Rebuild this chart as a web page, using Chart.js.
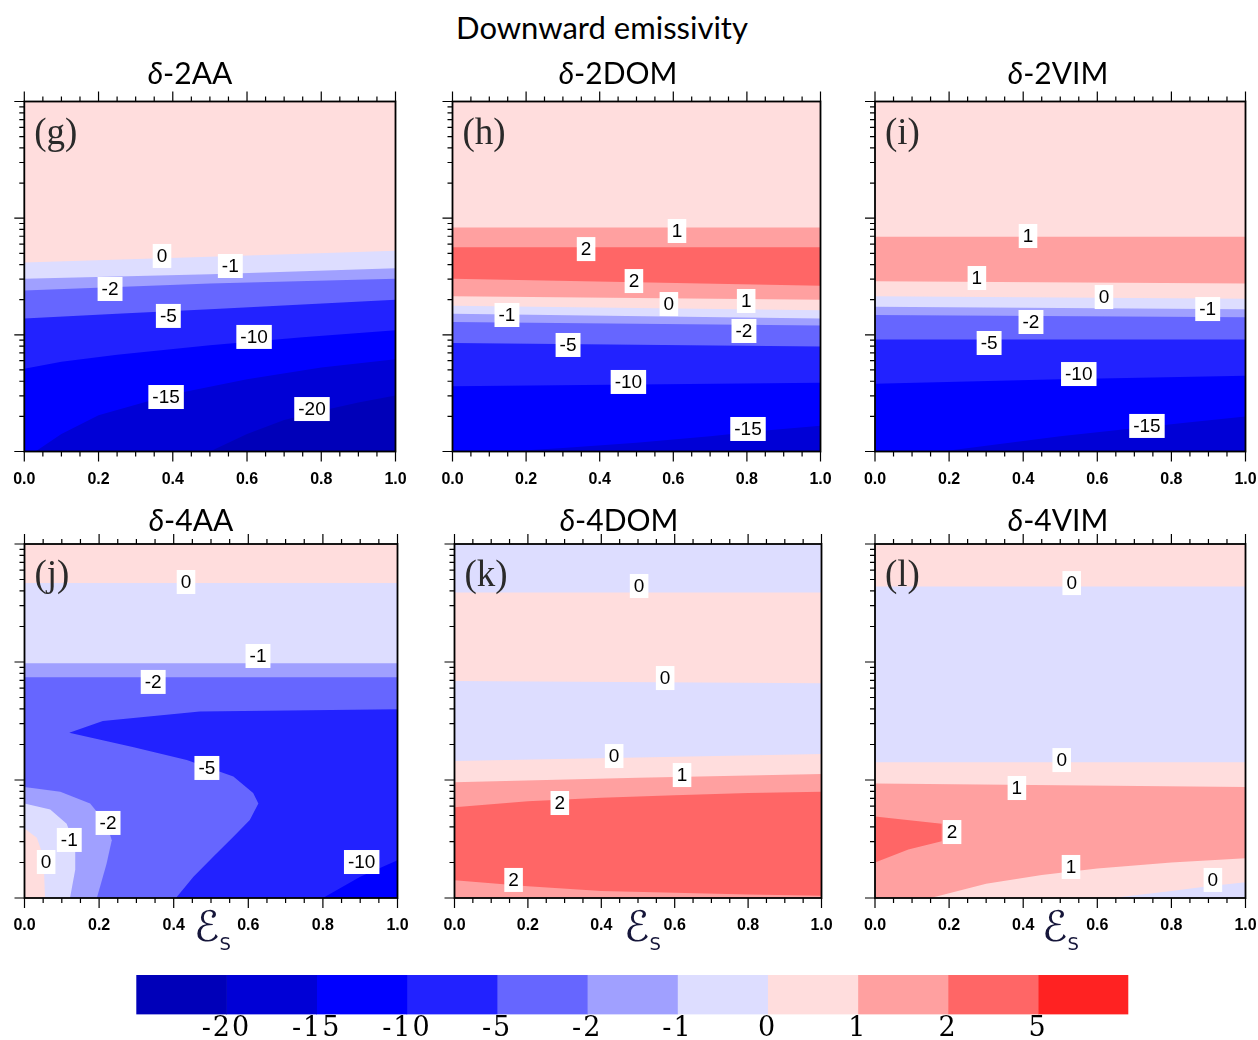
<!DOCTYPE html>
<html>
<head>
<meta charset="utf-8">
<script src="https://cdn.jsdelivr.net/npm/chart.js@4.4.1/dist/chart.umd.min.js"></script>
<style>
  html, body { margin: 0; padding: 0; background: #fff; overflow: hidden; }
  #fig { position: relative; width: 1258px; height: 1040px; background: #fff; font-family: Lato, "Open Sans", sans-serif; }
  #fig canvas { position: absolute; }
  .txt { position: absolute; transform: translate(-50%, -50%); white-space: nowrap; color: #000; }
  .main { font-size: 31px; }
  .ptitle { font-size: 30px; }
  .eps { position: absolute; font-family: "DejaVu Serif", "DejaVu Sans", serif; font-size: 42px; color: #16163a; line-height: 1; }
  .eps sub { font-size: 18px; font-family: "DejaVu Sans", sans-serif; }
</style>
</head>
<body>
<div id="fig">
  <div class="txt main" style="left:602px; top:27px">Downward emissivity</div>
</div>
<script>
// Colours of the 11 bands of the colour bar, lowest to highest
const bandColors = ['#0000b9', '#0000d6', '#0000ff', '#2222ff', '#6666ff', '#a0a0ff',
                    '#ddddff', '#ffdddd', '#ffa0a0', '#ff6666', '#ff2222'];
// Contour levels between the bands (colour bar labels)
const levels = ['-20', '-15', '-10', '-5', '-2', '-1', '0', '1', '2', '5'];

// x = surface emissivity (0..1), y = decades above the bottom of the log axis (0..3)
// each contour: [band filled below it, points along the line]

// (g) δ-2AA
const gBack = 7;
const gLines = [
  [6, [[0, 1.62], [0.5, 1.67], [1, 1.72]]],
  [5, [[0, 1.48], [0.5, 1.52], [1, 1.57]]],
  [4, [[0, 1.38], [0.5, 1.44], [1, 1.48]]],
  [3, [[0, 1.14], [0.25, 1.18], [0.5, 1.22], [0.75, 1.26], [1, 1.30]]],
  [2, [[0, 0.71], [0.1, 0.77], [0.25, 0.83], [0.5, 0.91], [0.75, 0.98], [1, 1.04]]],
  [1, [[0.03, 0], [0.1, 0.15], [0.2, 0.31], [0.4, 0.49], [0.6, 0.62], [0.8, 0.72], [1, 0.79]]],
  [0, [[0.5, 0], [0.6, 0.15], [0.7, 0.27], [0.8, 0.35], [0.9, 0.42], [1, 0.48]]]
];
const gLabels = [['0', 0.371, 1.676], ['-1', 0.555, 1.59], ['-2', 0.231, 1.393], ['-5', 0.388, 1.162],
                 ['-10', 0.619, 0.982], ['-15', 0.382, 0.467], ['-20', 0.775, 0.364]];

// (h) δ-2DOM
const hBack = 7;
const hLines = [
  [8, [[0, 1.92], [1, 1.92]]],
  [9, [[0, 1.75], [1, 1.75]]],
  [8, [[0, 1.48], [0.5, 1.45], [1, 1.42]]],
  [7, [[0, 1.33], [1, 1.30]]],
  [6, [[0, 1.25], [1, 1.21]]],
  [5, [[0, 1.18], [1, 1.14]]],
  [4, [[0, 1.11], [1, 1.08]]],
  [3, [[0, 0.93], [1, 0.90]]],
  [2, [[0, 0.56], [1, 0.59]]],
  [1, [[0.15, 0], [0.3, 0.03], [0.5, 0.075], [0.7, 0.13], [0.85, 0.18], [1, 0.22]]]
];
const hLabels = [['1', 0.61, 1.89], ['2', 0.363, 1.735], ['2', 0.493, 1.461], ['0', 0.588, 1.264],
                 ['1', 0.798, 1.29], ['-1', 0.148, 1.17], ['-2', 0.792, 1.033], ['-5', 0.314, 0.913],
                 ['-10', 0.478, 0.596], ['-15', 0.803, 0.193]];

// (i) δ-2VIM
const iBack = 7;
const iLines = [
  [8, [[0, 1.84], [1, 1.84]]],
  [7, [[0, 1.46], [1, 1.44]]],
  [6, [[0, 1.33], [1, 1.31]]],
  [5, [[0, 1.24], [1, 1.22]]],
  [4, [[0, 1.17], [1, 1.15]]],
  [3, [[0, 0.96], [1, 0.96]]],
  [2, [[0, 0.58], [0.5, 0.62], [1, 0.65]]],
  [1, [[0.18, 0], [0.3, 0.05], [0.5, 0.13], [0.7, 0.2], [0.85, 0.25], [1, 0.3]]]
];
const iLabels = [['1', 0.413, 1.847], ['1', 0.275, 1.487], ['0', 0.618, 1.324], ['-1', 0.898, 1.221],
                 ['-2', 0.421, 1.11], ['-5', 0.308, 0.93], ['-10', 0.55, 0.664], ['-15', 0.734, 0.219]];

// (j) δ-4AA
const jBack = 7;
const jLines = [
  [6, [[0, 2.67], [1, 2.67]]],
  [5, [[0, 1.99], [1, 1.99]]],
  [4, [[0, 1.87], [1, 1.87]]],
  [3, [[1, 1.60], [0.47, 1.58], [0.21, 1.50], [0.12, 1.40], [0.29, 1.28], [0.435, 1.17], [0.56, 1.03],
       [0.613, 0.89], [0.627, 0.80], [0.604, 0.66], [0.56, 0.52], [0.506, 0.35], [0.453, 0.18], [0.406, 0]]],
  [2, [[0.8, 0], [0.9, 0.18], [1, 0.32]]],
  [5, [[0, 0.94], [0.096, 0.90], [0.176, 0.80], [0.22, 0.63], [0.234, 0.49], [0.22, 0.29], [0.194, 0]]],
  [6, [[0, 0.80], [0.069, 0.75], [0.113, 0.63], [0.136, 0.44], [0.136, 0.24], [0.122, 0]]],
  [7, [[0, 0.59], [0.033, 0.51], [0.051, 0.35], [0.055, 0]]]
];
const jLabels = [['0', 0.433, 2.678], ['-1', 0.626, 2.051], ['-2', 0.345, 1.831], ['-5', 0.489, 1.102],
                 ['-2', 0.224, 0.636], ['-1', 0.12, 0.492], ['0', 0.058, 0.305], ['-10', 0.904, 0.305]];

// (k) δ-4DOM
const kBack = 6;
const kLines = [
  [7, [[0, 2.59], [1, 2.59]]],
  [6, [[0, 1.84], [1, 1.82]]],
  [7, [[0, 1.16], [0.5, 1.19], [1, 1.22]]],
  [8, [[0, 0.98], [0.5, 1.02], [1, 1.05]]],
  [9, [[0, 0.77], [0.2, 0.82], [0.4, 0.85], [0.6, 0.87], [0.8, 0.89], [1, 0.90]]],
  [8, [[0, 0.15], [0.2, 0.10], [0.4, 0.06], [0.6, 0.045], [0.8, 0.03], [1, 0.02]]]
];
const kLabels = [['0', 0.503, 2.644], ['0', 0.574, 1.864], ['0', 0.435, 1.203], ['1', 0.62, 1.042],
                 ['2', 0.287, 0.805], ['2', 0.161, 0.153]];

// (l) δ-4VIM
const lBack = 7;
const lLines = [
  [6, [[0, 2.64], [1, 2.64]]],
  [7, [[0, 1.15], [1, 1.15]]],
  [8, [[0, 0.97], [1, 0.94]]],
  [9, [[0, 0.69], [0.18, 0.63], [0.18, 0.48], [0.09, 0.41], [0, 0.30]]],
  [7, [[0.15, 0], [0.3, 0.12], [0.45, 0.195], [0.6, 0.25], [0.8, 0.30], [1, 0.336]]],
  [6, [[0.64, 0], [0.8, 0.06], [0.9, 0.1], [1, 0.133]]]
];
const lLabels = [['0', 0.531, 2.669], ['0', 0.504, 1.169], ['1', 0.383, 0.932], ['2', 0.208, 0.559],
                 ['1', 0.529, 0.263], ['0', 0.912, 0.153]];

const fig = document.getElementById('fig');

// panel placement: plot area [left, top, right, bottom] in page pixels
const panels = [
  { letter: 'g', title: '2AA',  box: [24.3, 101.5, 395.5, 451.5], back: gBack, lines: gLines, labels: gLabels, tx: 190,  ty: 72 },
  { letter: 'h', title: '2DOM', box: [452.5, 101.5, 820.5, 451.5], back: hBack, lines: hLines, labels: hLabels, tx: 618,  ty: 72 },
  { letter: 'i', title: '2VIM', box: [875, 101.5, 1245.5, 451.5], back: iBack, lines: iLines, labels: iLabels, tx: 1058, ty: 72 },
  { letter: 'j', title: '4AA',  box: [24.5, 544, 397.5, 898], back: jBack, lines: jLines, labels: jLabels, tx: 191,  ty: 519, eps: 212 },
  { letter: 'k', title: '4DOM', box: [454.5, 544, 821.5, 898], back: kBack, lines: kLines, labels: kLabels, tx: 619,  ty: 519, eps: 642 },
  { letter: 'l', title: '4VIM', box: [875, 544, 1245.5, 898], back: lBack, lines: lLines, labels: lLabels, tx: 1058, ty: 519, eps: 1060 }
];

// tick marks: log axis (3 decades) on the left, 0.05 steps on top/bottom
const yTickVals = [];
for (let k = 0; k < 3; k++) {
  for (let m = 1; m < 10; m++) yTickVals.push({ v: k + Math.log10(m), major: m === 1 });
}
yTickVals.push({ v: 3, major: true });
const xTickVals = [];
for (let i = 0; i <= 20; i++) xTickVals.push({ v: i * 0.05, major: i % 4 === 0 });

// close a contour line down to the bottom of the plot so it can be filled
function shapeOf(pts) {
  const out = pts.map(p => ({ x: p[0], y: p[1] }));
  const first = pts[0], last = pts[pts.length - 1];
  if (last[1] > 0) out.push({ x: last[0], y: 0 });
  if (first[1] > 0) out.push({ x: first[0], y: 0 });
  return out;
}

function decorPlugin(p) {
  return {
    id: 'decor' + p.letter,
    afterDatasetsDraw(chart) {
      const { ctx, chartArea: a, scales: { x, y } } = chart;
      ctx.save();
      ctx.strokeStyle = '#000';
      ctx.lineWidth = 1.2;
      ctx.beginPath();
      yTickVals.forEach(t => {
        const py = y.getPixelForValue(t.v);
        ctx.moveTo(a.left, py);
        ctx.lineTo(a.left - (t.major ? 10 : 5), py);
      });
      xTickVals.forEach(t => {
        const px = x.getPixelForValue(t.v);
        const len = t.major ? 10 : 5;
        ctx.moveTo(px, a.top);
        ctx.lineTo(px, a.top - len);
        ctx.moveTo(px, a.bottom);
        ctx.lineTo(px, a.bottom + len);
      });
      ctx.stroke();
      ctx.lineWidth = 1.8;
      ctx.strokeRect(a.left, a.top, a.right - a.left, a.bottom - a.top);

      // contour labels
      ctx.font = '19px "Liberation Sans", Arial, sans-serif';
      ctx.textAlign = 'center';
      ctx.textBaseline = 'middle';
      p.labels.forEach(([txt, lx, ly]) => {
        const px = x.getPixelForValue(lx);
        const py = y.getPixelForValue(ly);
        const w = ctx.measureText(txt).width + 8;
        ctx.fillStyle = '#fff';
        ctx.fillRect(px - w / 2, py - 12, w, 24);
        ctx.fillStyle = '#000';
        ctx.fillText(txt, px, py + 1);
      });

      // panel letter
      ctx.font = '37px "Liberation Serif", "Times New Roman", serif';
      ctx.fillStyle = '#2a2a2a';
      ctx.textAlign = 'left';
      ctx.textBaseline = 'alphabetic';
      ctx.fillText('(' + p.letter + ')', a.left + 10, a.top + 42);
      ctx.restore();
    }
  };
}

function makePanel(p) {
  const [L, T, R, B] = p.box;
  const axisH = 44;
  const cl = Math.floor(L) - 30, ct = Math.floor(T) - 16;
  const cw = Math.ceil(R) + 14 - cl, ch = Math.ceil(B) + axisH - ct;
  const cv = document.createElement('canvas');
  cv.width = cw;
  cv.height = ch;
  cv.style.left = cl + 'px';
  cv.style.top = ct + 'px';
  fig.appendChild(cv);

  const layers = [[p.back, [[0, 3], [1, 3]]]].concat(p.lines);
  const datasets = layers.map((l, i) => ({
    data: shapeOf(l[1]),
    fill: 'shape',
    backgroundColor: bandColors[l[0]],
    borderColor: 'rgba(0,0,0,0)',
    borderWidth: 0,
    pointRadius: 0,
    pointHoverRadius: 0,
    tension: 0,
    order: 100 - i
  }));

  new Chart(cv, {
    type: 'line',
    data: { datasets },
    options: {
      responsive: false,
      animation: false,
      events: [],
      layout: { padding: { left: L - cl, top: T - ct, right: cl + cw - R, bottom: ct + ch - B - axisH } },
      plugins: { legend: { display: false }, tooltip: { enabled: false } },
      scales: {
        x: {
          type: 'linear', min: 0, max: 1,
          grid: { display: false, tickLength: 18 },
          border: { display: false },
          afterFit: s => { s.height = axisH; },
          ticks: {
            stepSize: 0.2, autoSkip: false, maxRotation: 0, padding: 0, color: '#000',
            font: { family: '"Liberation Sans", Arial, sans-serif', size: 16, weight: 'bold' },
            callback: v => v.toFixed(1)
          }
        },
        y: { type: 'linear', min: 0, max: 3, display: false }
      }
    },
    plugins: [decorPlugin(p)]
  });

  const t = document.createElement('div');
  t.className = 'txt ptitle';
  t.style.left = p.tx + 'px';
  t.style.top = p.ty + 'px';
  t.innerHTML = '<i>δ</i>-' + p.title;
  fig.appendChild(t);

  if (p.eps) {
    const e = document.createElement('div');
    e.className = 'eps';
    e.style.left = (p.eps - 18) + 'px';
    e.style.top = '906px';
    e.innerHTML = 'ℰ<sub>S</sub>';
    fig.appendChild(e);
  }
}

panels.forEach(makePanel);

// colour bar
const cb = document.createElement('canvas');
cb.width = 1070;
cb.height = 80;
cb.style.left = '100px';
cb.style.top = '960px';
fig.appendChild(cb);

new Chart(cb, {
  type: 'bar',
  data: {
    labels: [''],
    datasets: bandColors.map(c => ({ data: [1], backgroundColor: c, borderWidth: 0, barPercentage: 1, categoryPercentage: 1 }))
  },
  options: {
    indexAxis: 'y',
    responsive: false,
    animation: false,
    events: [],
    layout: { padding: { left: 36.3, top: 15, right: 41.6, bottom: 0 } },
    plugins: { legend: { display: false }, tooltip: { enabled: false } },
    scales: {
      x: {
        type: 'linear', stacked: true, min: 0, max: 11,
        grid: { display: false, drawTicks: false, tickLength: 0 },
        border: { display: false },
        afterFit: s => { s.height = 25.5; },
        ticks: {
          stepSize: 1, autoSkip: false, maxRotation: 0, padding: 1, color: '#000',
          font: { family: '"DejaVu Serif", serif', size: 27, lineHeight: 1 },
          callback: v => levels[v - 1] || ''
        }
      },
      y: { stacked: true, display: false }
    }
  },
  plugins: [{
    id: 'spacing',
    beforeDraw(chart) { chart.ctx.letterSpacing = '2px'; }
  }]
});
</script>
</body>
</html>
